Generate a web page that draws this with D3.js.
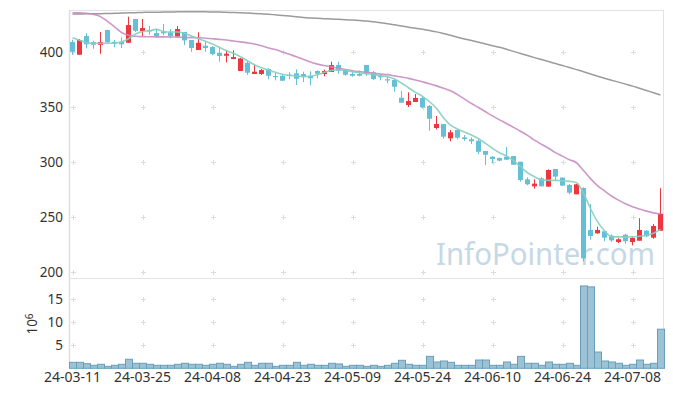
<!DOCTYPE html>
<html>
<head>
<meta charset="utf-8">
<script src="https://cdn.jsdelivr.net/npm/d3@7"></script>
<style>
  body { margin: 0; background: #fff; }
  text { font-family: "Noto Sans", "Liberation Sans", sans-serif; fill: #333; }
</style>
</head>
<body>
<div id="chart"></div>
<script>
// trading days (KRX) 2024-03-11 .. 2024-07-12
var dates = ["24-03-11","24-03-12","24-03-13","24-03-14","24-03-15","24-03-18","24-03-19","24-03-20","24-03-21","24-03-22",
  "24-03-25","24-03-26","24-03-27","24-03-28","24-03-29","24-04-01","24-04-02","24-04-03","24-04-04","24-04-05",
  "24-04-08","24-04-09","24-04-11","24-04-12","24-04-15","24-04-16","24-04-17","24-04-18","24-04-19","24-04-22",
  "24-04-23","24-04-24","24-04-25","24-04-26","24-04-29","24-04-30","24-05-02","24-05-03","24-05-07","24-05-08",
  "24-05-09","24-05-10","24-05-13","24-05-14","24-05-16","24-05-17","24-05-20","24-05-21","24-05-22","24-05-23",
  "24-05-24","24-05-27","24-05-28","24-05-29","24-05-30","24-05-31","24-06-03","24-06-04","24-06-05","24-06-07",
  "24-06-10","24-06-11","24-06-12","24-06-13","24-06-14","24-06-17","24-06-18","24-06-19","24-06-20","24-06-21",
  "24-06-24","24-06-25","24-06-26","24-06-27","24-06-28","24-07-01","24-07-02","24-07-03","24-07-04","24-07-05",
  "24-07-08","24-07-09","24-07-10","24-07-11","24-07-12"];

var open = [409.4,397.8,414.8,409.4,406.9,420.3,409.6,409.6,408.7,430.3,
  419.4,420.3,417.5,418.5,418.2,414.5,418.5,411.2,402.1,406,
  404.8,399.6,396.9,393.9,383,390.5,380.3,380.3,384.8,378.5,
  378.7,379.6,380.9,380.3,378.7,383,380.3,382.1,388.5,383.9,
  380.3,380.3,388.5,381.8,378.5,375.5,374.8,358.7,352.1,354.8,
  358.5,351.2,331.2,334.8,321.8,329.4,322.7,320.9,319.6,310.3,
  305.1,303.9,305.1,305.7,300.5,284.5,278.2,285.4,277.9,293.9,
  286.1,279.4,270.9,276.6,238.5,235.4,237.3,233.3,227.5,234.2,
  227.5,228.7,237.8,231.5,237.8];
var high = [411.5,412.1,417.5,410.5,418.5,420.5,411.2,413.6,432.4,430.3,
  430.3,423.9,421.5,425.7,421.2,423.9,418.5,411.2,418.2,409.4,
  405.7,405.1,402.1,401.8,394.7,392.4,388.7,384.8,385.5,381.5,
  379.3,381.8,384.5,382.4,382.7,383.6,384.2,391.5,391.5,384.2,
  382.1,383.3,388.5,383,380.3,378.5,376.4,364.8,363.6,362.1,
  359.6,352.1,342.1,334.8,329.4,330,324.8,322.7,321.8,310.3,
  305.7,304.2,313.9,305.7,300.5,286.4,284.5,286.4,293.6,293.9,
  286.1,280.3,280.3,277.2,262,241.5,237.3,234.5,231,234.8,
  232.4,249.2,238.4,243.9,276.4];
var low = [397.8,397.8,403.6,403.3,398.7,408.8,404.5,403.9,408.5,418.5,
  414.5,416,413,415.5,412.7,414.2,406.6,400.5,402.1,400.5,
  397.3,391.5,390.9,393.9,383,379.4,380.3,379.4,375.5,374.5,
  374,375.5,370.3,373,370,376.4,378.2,382.1,380.5,378.7,
  377.8,378.2,378.5,374.8,374.5,372,364.2,354.2,350.3,354.8,
  349,328.7,330,321.5,319.1,320.9,319.4,316.6,307.5,297.5,
  299,300.9,302.1,297.8,282.4,279.1,276,278,277.9,283,
  278.5,270.9,270.9,210,229.7,235,228,227.5,226.6,226,
  224.5,228.7,232,230.5,237.5];
var close = [400.5,411.2,407.3,406.9,409.4,409.1,407.8,407.3,424.8,419.6,
  422.1,419.1,414.8,417.3,414.8,421.2,410.9,403.9,408.7,403.9,
  398.5,396.6,398.7,395.7,394.5,381.5,382.4,383.9,378.7,377.5,
  374.2,378.7,376,377.8,376.4,380.5,383,388.5,383.3,379.6,
  378.7,378.7,380.5,375.7,377.3,374.5,368.7,354.2,355.7,358.5,
  350,339.6,334.8,323.3,327.3,322.4,321.2,319.1,309.6,306.9,
  303,301.5,302.4,297.8,283.9,280,280.6,278.2,293,287,
  278.8,272.4,280,212.7,233,238.5,231.5,229,230,228.2,
  231.2,238.5,232.7,242.1,253.3];

// volume, millions of shares
var volume = [1.3,1.3,1.0,0.65,0.87,0.43,0.65,0.87,1.96,1.09,
  1.09,0.87,0.65,0.65,0.65,0.87,1.09,0.87,0.87,0.65,
  0.87,1.09,0.87,0.43,0.87,1.3,0.65,1.09,1.09,0.43,
  0.65,0.65,1.3,0.65,0.87,0.65,0.65,1.09,0.95,0.43,
  0.65,0.65,0.43,0.65,0.43,0.65,1.09,1.74,0.87,0.65,
  0.65,2.6,1.37,1.59,1.3,0.65,0.65,0.65,1.8,1.8,
  0.65,0.65,1.37,0.87,2.6,1.09,1.09,0.65,1.37,0.87,
  0.87,1.09,0.65,17.9,17.7,3.54,1.59,1.37,1.09,0.65,
  0.87,1.8,0.87,1.09,8.5];

// moving averages as drawn
var maShort = [413.2,411,409,408.2,408.2,408.2,408.5,409.4,412.4,416.6,
  419,419.6,420.9,419,418.5,418.5,417.3,414.8,412.4,410,
  407.5,404.5,401.5,399.1,396,392.4,388.7,386,383.9,381.8,
  380,379.1,378.5,377.8,378.2,379.6,381.8,383.6,384.2,383.6,
  382.4,381.5,380.5,380,378.7,377.8,375.7,372.1,367.8,363.6,
  360,355.1,349.1,340.5,333.9,330.3,327.5,324.8,321.5,317.3,
  312.7,308.7,305.7,301.5,296,290.5,286.9,284,283.6,283.6,
  283.3,282.7,281.5,272,258,246,237.7,232.4,232.2,232.2,
  232.2,232.8,233.6,235.4,239];
var maMid = [436,436,435.5,434.5,432.5,428.2,423.2,418,415.5,414.6,
  414.3,414.2,414.1,414.1,414,413.8,413.6,413.4,413.3,412.8,
  412.3,411.8,411.2,410.3,409.5,408.6,407.5,405.9,404,402.5,
  400.4,398.2,396,393.6,391.2,389.3,388,386.8,385.6,384.3,
  383.3,382.5,381.8,381,380.2,379.7,378.6,377.5,376.3,374.8,
  373.2,371.5,369.5,367.3,365,361.5,357.5,353.5,349.8,346,
  342.2,338.6,335.3,331.8,328.3,324.5,320.2,316.4,312.8,308.8,
  305.6,302.4,299.6,292.5,285.2,278.8,274,269.4,265.6,262.3,
  259.6,257.5,255.6,254,253];
var maLong = [434.8,434.9,435,435.1,435.2,435.3,435.5,435.7,435.9,436.1,
  436.3,436.4,436.5,436.6,436.7,436.8,436.9,436.9,436.9,436.8,
  436.7,436.6,436.4,436.2,436,435.7,435.4,435,434.6,434.1,
  433.6,433,432.3,431.6,431.2,430.9,430.6,430.3,430,429.7,
  429.3,428.9,428.5,427.8,427,426.1,425,423.9,422.9,421.9,
  420.9,419.8,418.6,417.1,415.5,413.8,412.2,410.7,409.2,407.6,
  406,404.6,402.8,400.9,399,397.1,395.2,393.4,391.6,389.8,
  388,386.2,384.3,382.4,380.3,378.3,376.5,374.7,372.9,371.1,
  369.3,367.3,365.3,363.2,361.2];

var priceTicks = [200, 250, 300, 350, 400];
var volTicks = [5, 10, 15];
var dateTicks = ["24-03-11","24-03-25","24-04-08","24-04-23","24-05-09","24-05-24","24-06-10","24-06-24","24-07-08"];

var svgWidth = 673, svgHeight = 396;
var plotLeft = 69, plotRight = 664, plotTop = 10, plotSplit = 278, plotBottom = 368.3;

var svg = d3.select("#chart").append("svg")
  .attr("width", svgWidth)
  .attr("height", svgHeight);

var xScale = d3.scaleBand().domain(d3.range(dates.length)).range([plotLeft, plotRight]).padding(0);
var bw = xScale.bandwidth();
var cx = function(i) { return xScale(i) + bw / 2; };

var yScale = d3.scaleLinear().domain([194.8, 438.5]).range([plotSplit, plotTop]);
var vScale = d3.scaleLinear().domain([0, 19.63]).range([plotBottom, plotSplit]);

// watermark
svg.append("text")
  .attr("x", 436).attr("y", 265)
  .attr("textLength", 219).attr("lengthAdjust", "spacingAndGlyphs")
  .style("font-size", "30px")
  .style("fill", "#c6d8e4")
  .text("InfoPointer.com");

// grid crosses
var xTickIdx = dateTicks.map(function(d) { return dates.indexOf(d); });
var crossPts = [];
xTickIdx.forEach(function(i) {
  priceTicks.forEach(function(p) { crossPts.push([cx(i), yScale(p)]); });
  volTicks.forEach(function(v) { crossPts.push([cx(i), vScale(v)]); });
});
var cross = svg.append("g").attr("stroke", "#dcdcdc").attr("stroke-width", 1);
crossPts.forEach(function(p) {
  var x = Math.round(p[0]) + 0.5, y = Math.round(p[1]) + 0.5;
  cross.append("line").attr("x1", x - 2.5).attr("x2", x + 2.5).attr("y1", y).attr("y2", y);
  cross.append("line").attr("x1", x).attr("x2", x).attr("y1", y - 2.5).attr("y2", y + 2.5);
});

// frame
var frame = svg.append("g").attr("stroke", "#e3e3e3").attr("fill", "none");
frame.append("line").attr("x1", plotLeft).attr("x2", 663.5).attr("y1", 10.5).attr("y2", 10.5);
frame.append("line").attr("x1", 663.5).attr("x2", 663.5).attr("y1", 10).attr("y2", plotBottom);
frame.append("line").attr("x1", plotLeft).attr("x2", 663.5).attr("y1", plotSplit + 0.5).attr("y2", plotSplit + 0.5);
frame.append("line").attr("x1", 69.5).attr("x2", 69.5).attr("y1", 10).attr("y2", plotBottom)
  .attr("stroke-width", 1.5).attr("stroke", "#dedede");

// volume bars
svg.append("g").selectAll("rect").data(volume).enter()
  .append("rect")
  .attr("x", function(d, i) { return xScale(i) + 0.5; })
  .attr("width", bw)
  .attr("y", function(d) { return vScale(d); })
  .attr("height", function(d) { return plotBottom - vScale(d); })
  .attr("fill", "#9cc3d5")
  .attr("stroke", "#6a9fb9")
  .attr("stroke-width", 1);

// candles
var up = "#ee3640", down = "#64bfd7";
var candles = svg.append("g").selectAll("g").data(dates).enter().append("g");
candles.append("line")
  .attr("x1", function(d, i) { return cx(i); })
  .attr("x2", function(d, i) { return cx(i); })
  .attr("y1", function(d, i) { return yScale(high[i]); })
  .attr("y2", function(d, i) { return yScale(low[i]); })
  .attr("stroke", function(d, i) { return close[i] > open[i] ? up : down; })
  .attr("stroke-width", 1);
candles.append("rect")
  .attr("x", function(d, i) { return cx(i) - 2.5; })
  .attr("width", 5)
  .attr("y", function(d, i) { return yScale(Math.max(open[i], close[i])); })
  .attr("height", function(d, i) {
    return Math.max(1.2, Math.abs(yScale(open[i]) - yScale(close[i])));
  })
  .attr("fill", function(d, i) { return close[i] > open[i] ? up : down; });

// moving average lines
var line = d3.line()
  .x(function(d, i) { return cx(i); })
  .y(function(d) { return yScale(d); })
  .curve(d3.curveMonotoneX);
svg.append("path").datum(maLong).attr("d", line)
  .attr("fill", "none").attr("stroke", "#9b9b9b").attr("stroke-width", 1.5);
svg.append("path").datum(maMid).attr("d", line)
  .attr("fill", "none").attr("stroke", "#c98cc3").attr("stroke-width", 1.6).attr("opacity", 0.9);
svg.append("path").datum(maShort).attr("d", line)
  .attr("fill", "none").attr("stroke", "#86cebf").attr("stroke-width", 1.6).attr("opacity", 0.9);

// y labels
svg.append("g").selectAll("text").data(priceTicks).enter()
  .append("text")
  .attr("x", 63).attr("y", function(d) { return yScale(d); })
  .attr("dy", "0.35em")
  .attr("text-anchor", "end")
  .style("font-size", "13.5px")
  .text(function(d) { return d; });
svg.append("g").selectAll("text").data(volTicks).enter()
  .append("text")
  .attr("x", 63).attr("y", function(d) { return vScale(d); })
  .attr("dy", "0.35em")
  .attr("text-anchor", "end")
  .style("font-size", "13.5px")
  .text(function(d) { return d; });

// volume unit
var unit = svg.append("text")
  .attr("transform", "translate(37,324)rotate(-90)")
  .attr("text-anchor", "middle")
  .style("font-size", "13.5px");
unit.append("tspan").text("10");
unit.append("tspan").attr("dy", "-0.45em").style("font-size", "10px").text("6");

// x labels
svg.append("g").selectAll("text").data(xTickIdx).enter()
  .append("text")
  .attr("x", function(i) { return cx(i); })
  .attr("y", 382)
  .attr("text-anchor", "middle")
  .style("font-size", "14px")
  .text(function(i) { return dates[i]; });
</script>
</body>
</html>
